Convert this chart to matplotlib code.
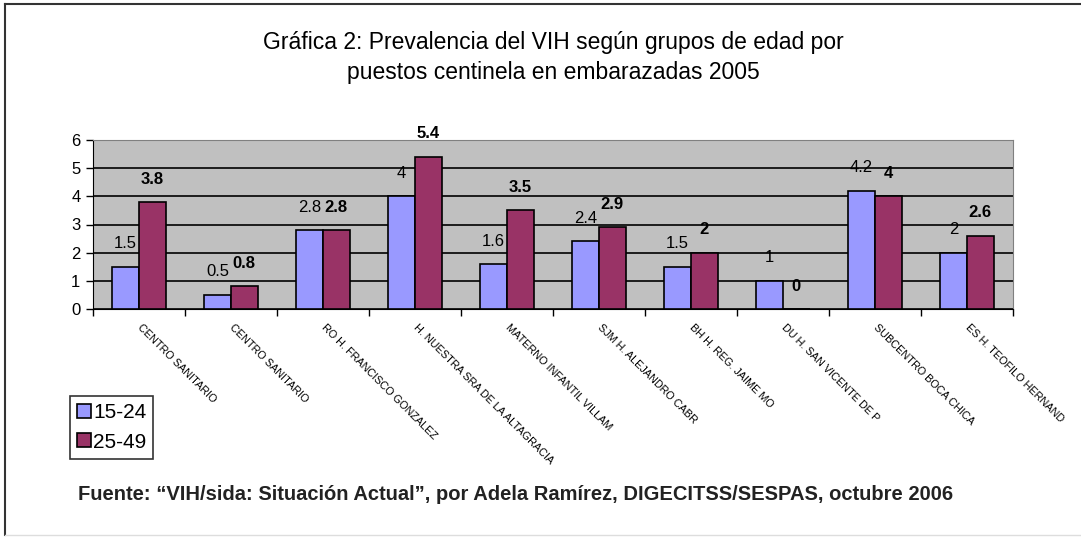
import matplotlib.pyplot as plt
import numpy as np
from matplotlib.lines import Line2D

puestos = [
    "CENTRO SANITARIO",
    "CENTRO SANITARIO",
    "RO H. FRANCISCO GONZALEZ",
    "H. NUESTRA SRA DE LA ALTAGRACIA",
    "MATERNO INFANTIL VILLAM",
    "SJM H. ALEJANDRO CABR",
    "BH H. REG. JAIME MO",
    "DU H. SAN VICENTE DE P",
    "SUBCENTRO BOCA CHICA",
    "ES H. TEOFILO HERNAND",
]
edad_15_24 = [1.5, 0.5, 2.8, 4, 1.6, 2.4, 1.5, 1, 4.2, 2]
edad_25_49 = [3.8, 0.8, 2.8, 5.4, 3.5, 2.9, 2, 0, 4, 2.6]
series = ["15-24", "25-49"]

plt.rcParams["font.family"] = ["Liberation Sans", "DejaVu Sans"]

fig = plt.figure(figsize=(10.81, 5.37), dpi=100)
ax = fig.add_axes([93 / 1081, 1 - 309 / 537, 920 / 1081, 169 / 537])

x = np.arange(len(puestos))
w = 0.29
ax.bar(x - w / 2, edad_15_24, w, color="#9999FF", edgecolor="black", linewidth=1.2, label=series[0], zorder=3)
ax.bar(x + w / 2, edad_25_49, w, color="#993366", edgecolor="black", linewidth=1.2, label=series[1], zorder=3)

# etiquetas de valores
for xi, v in zip(x - w / 2, edad_15_24):
    ax.annotate(f"{v:g}", (xi, v), xytext=(0, 16.5), textcoords="offset points",
                ha="center", va="center", fontsize=12, zorder=4)
for xi, v in zip(x + w / 2, edad_25_49):
    ax.annotate(f"{v:g}", (xi, v), xytext=(0, 16.5), textcoords="offset points",
                ha="center", va="center", fontsize=12, fontweight="bold", zorder=4)

ax.set_facecolor("#C0C0C0")
ax.set_xlim(-0.5, len(puestos) - 0.5)
ax.set_ylim(0, 6)
ax.set_yticks(range(7))
ax.tick_params(axis="y", labelsize=12, length=5, width=1, direction="out", pad=4)
ax.grid(axis="y", color="black", linewidth=1.2, zorder=0)
ax.set_axisbelow(True)

# ticks del eje x entre categorias, etiquetas en el centro
ax.set_xticks(np.arange(len(puestos) + 1) - 0.5)
ax.set_xticklabels([])
ax.tick_params(axis="x", length=5, width=1, direction="out")
for xi, lab in zip(x, puestos):
    ax.annotate(lab, (xi, 0), xytext=(0, -12), textcoords="offset points",
                rotation=-45, rotation_mode="anchor", ha="left", va="center",
                fontsize=7.8)

for s in ["top", "right"]:
    ax.spines[s].set_color("#808080")
ax.spines["left"].set_color("black")
ax.spines["bottom"].set_color("black")

leg = ax.legend(loc="upper left", bbox_to_anchor=(70 / 1081, 1 - 396 / 537),
                bbox_transform=fig.transFigure, fontsize=15, frameon=True,
                fancybox=False, edgecolor="black", handlelength=0.65, handleheight=0.65,
                handletextpad=0.1, borderpad=0.35, labelspacing=0.5, borderaxespad=0)
leg.get_frame().set_linewidth(1.2)

fig.text(553 / 1081, 1 - 42 / 537, "Gráfica 2: Prevalencia del VIH según grupos de edad por",
         ha="center", va="center", fontsize=16.5)
fig.text(553 / 1081, 1 - 72 / 537, "puestos centinela en embarazadas 2005",
         ha="center", va="center", fontsize=16.5)
fig.text(78 / 1081, 1 - 495 / 537,
         "Fuente: “VIH/sida: Situación Actual”, por Adela Ramírez, DIGECITSS/SESPAS, octubre 2006",
         ha="left", va="center", fontsize=14.5, fontweight="bold", color="#222222")

# marco de la figura
fig.add_artist(Line2D([5 / 1081, 5 / 1081], [0.004, 1 - 4 / 537], transform=fig.transFigure, color="#333333", lw=1.5))
fig.add_artist(Line2D([5 / 1081, 1], [1 - 4 / 537, 1 - 4 / 537], transform=fig.transFigure, color="#333333", lw=1.5))
fig.add_artist(Line2D([5 / 1081, 1], [0.004, 0.004], transform=fig.transFigure, color="#DDDDDD", lw=1))

fig.savefig("out.png", dpi=100)
